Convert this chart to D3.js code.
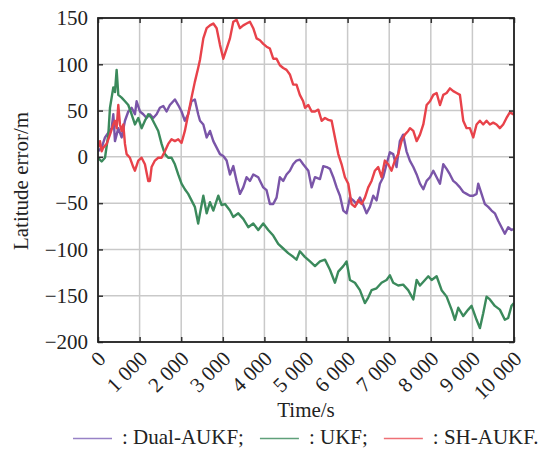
<!DOCTYPE html>
<html>
<head>
<meta charset="utf-8">
<script src="https://d3js.org/d3.v7.min.js"></script>
<style>
  html, body { margin: 0; padding: 0; background: #fff; }
  svg { display: block; }
  svg text { font-family: "Liberation Serif", "DejaVu Serif", serif; }
</style>
</head>
<body>
<svg id="chart" width="540" height="449"></svg>
<script>
// ---------- data (time in s, latitude error in m) ----------
const xTicks = [0, 1000, 2000, 3000, 4000, 5000, 6000, 7000, 8000, 9000, 10000];
const yTicks = [-200, -150, -100, -50, 0, 50, 100, 150];
const seriesNames = ["Dual-AUKF", "UKF", "SH-AUKF"];

const dualAUKF = [[0,6],[88,10],[168,21],[248,26],[328,31],[368,46],[408,17],[488,31],[568,21],[648,39],[728,49],[808,53],[888,46],[928,60],[1008,49],[1088,46],[1168,42],[1248,46],[1328,42],[1408,46],[1488,53],[1568,55],[1648,49],[1728,56],[1848,62],[1928,56],[2008,49],[2088,39],[2168,46],[2248,60],[2328,62],[2408,46],[2452,39],[2532,35],[2612,21],[2692,28],[2772,17],[2852,10],[2932,3],[3012,1],[3092,-4],[3172,-19],[3252,-10],[3332,-26],[3412,-40],[3492,-33],[3572,-22],[3652,-26],[3732,-19],[3852,-22],[3972,-33],[4052,-36],[4132,-51],[4212,-51],[4292,-44],[4372,-22],[4452,-26],[4532,-19],[4612,-15],[4692,-8],[4772,-4],[4852,-3],[4932,-8],[5056,-15],[5136,-33],[5216,-22],[5336,-24],[5416,-10],[5496,-11],[5576,-13],[5656,-22],[5736,-33],[5816,-42],[5896,-58],[5976,-61],[6056,-44],[6136,-47],[6216,-51],[6296,-44],[6376,-52],[6456,-61],[6536,-54],[6616,-42],[6696,-47],[6776,-29],[6856,-22],[6936,-8],[7016,5],[7096,3],[7176,-11],[7256,17],[7336,24],[7416,6],[7496,-4],[7580,-11],[7660,-19],[7740,-29],[7820,-35],[7900,-26],[7980,-22],[8060,-15],[8140,-22],[8220,-29],[8300,-8],[8380,-13],[8460,-19],[8540,-26],[8620,-29],[8700,-33],[8780,-38],[8860,-40],[8940,-42],[9020,-42],[9100,-40],[9140,-29],[9220,-40],[9300,-51],[9380,-54],[9460,-58],[9540,-61],[9620,-69],[9700,-76],[9780,-83],[9860,-76],[9940,-79],[10000,-78]];

const ukf = [[0,-1],[88,-5],[168,-1],[248,24],[288,53],[368,75],[408,70],[448,94],[488,67],[568,64],[648,60],[728,56],[808,46],[888,35],[968,42],[1048,31],[1128,39],[1208,46],[1288,42],[1368,35],[1448,28],[1528,14],[1608,3],[1688,-1],[1768,-1],[1848,-8],[1928,-19],[2008,-29],[2088,-35],[2168,-40],[2248,-47],[2328,-54],[2408,-72],[2452,-61],[2532,-42],[2612,-61],[2692,-49],[2772,-58],[2892,-42],[2972,-52],[3052,-51],[3172,-58],[3252,-65],[3372,-61],[3492,-67],[3612,-76],[3732,-72],[3852,-79],[3972,-72],[4092,-79],[4212,-85],[4332,-94],[4452,-99],[4572,-104],[4692,-108],[4772,-111],[4852,-102],[4972,-108],[5096,-113],[5216,-118],[5336,-113],[5456,-111],[5576,-122],[5696,-136],[5776,-124],[5896,-118],[5976,-113],[6056,-133],[6176,-136],[6296,-144],[6416,-158],[6496,-152],[6576,-144],[6696,-142],[6816,-136],[6936,-133],[7016,-128],[7096,-136],[7216,-139],[7336,-138],[7456,-144],[7580,-154],[7660,-133],[7740,-139],[7860,-133],[7940,-129],[8020,-133],[8140,-129],[8260,-144],[8380,-151],[8500,-165],[8580,-176],[8660,-163],[8780,-172],[8900,-165],[8980,-161],[9100,-176],[9180,-185],[9260,-169],[9340,-151],[9420,-154],[9540,-161],[9660,-165],[9780,-176],[9860,-174],[9940,-161],[10000,-158]];

const shAUKF = [[0,10],[48,17],[88,6],[128,10],[208,14],[288,24],[368,35],[408,39],[448,31],[488,56],[528,35],[568,28],[608,35],[648,14],[688,3],[768,-1],[848,-11],[888,-15],[968,-4],[1048,-1],[1128,-8],[1208,-26],[1248,-26],[1288,-11],[1368,-4],[1448,-1],[1528,-1],[1608,6],[1688,14],[1768,19],[1848,17],[1928,19],[2008,15],[2088,28],[2168,46],[2248,64],[2328,81],[2408,96],[2452,105],[2532,128],[2612,139],[2692,142],[2772,144],[2852,139],[2932,121],[3012,106],[3092,117],[3172,128],[3252,146],[3332,148],[3412,139],[3492,142],[3572,144],[3652,146],[3732,139],[3812,128],[3892,126],[3972,122],[4052,119],[4132,117],[4212,106],[4292,106],[4372,99],[4452,96],[4532,94],[4612,89],[4692,78],[4772,78],[4852,67],[4932,60],[4976,53],[5056,56],[5136,49],[5216,49],[5296,51],[5376,39],[5456,42],[5536,40],[5616,39],[5696,21],[5776,3],[5856,-8],[5936,-22],[6016,-29],[6096,-51],[6176,-54],[6256,-47],[6336,-51],[6416,-44],[6496,-33],[6576,-26],[6656,-15],[6736,-11],[6816,-22],[6896,-4],[6976,-8],[7056,-15],[7136,-4],[7216,3],[7296,17],[7376,24],[7456,28],[7500,31],[7580,28],[7660,17],[7740,24],[7820,35],[7900,56],[7980,60],[8060,67],[8140,69],[8220,56],[8300,67],[8380,69],[8460,74],[8540,71],[8620,69],[8700,67],[8780,39],[8860,31],[8940,31],[9020,21],[9100,35],[9180,39],[9260,35],[9340,39],[9420,35],[9500,37],[9580,35],[9660,31],[9740,35],[9820,42],[9900,48],[9980,46],[10000,48]];

const seriesData = [dualAUKF, ukf, shAUKF];
const seriesColors = ["#7a55a8", "#3b8a5c", "#e8424a"];
const legendColors = ["#9882c6", "#5fa07a", "#ee7076"];

// ---------- layout ----------
const svg = d3.select("#chart");
const pL = 98, pR = 514, pT = 18, pB = 342;
const FS = 21;

const x = d3.scaleLinear().domain([0, 10000]).range([pL, pR]);
const y = d3.scaleLinear().domain([-200, 150]).range([pB, pT]);

// grid
const grid = svg.append("g");
grid.selectAll("line.vg").data(xTicks).join("line")
  .attr("x1", d => x(d)).attr("x2", d => x(d))
  .attr("y1", pT).attr("y2", pB)
  .attr("stroke", "#c9c9c9").attr("stroke-width", 1.5);
grid.selectAll("line.hg").data(yTicks).join("line")
  .attr("x1", pL).attr("x2", pR)
  .attr("y1", d => y(d)).attr("y2", d => y(d))
  .attr("stroke", "#c9c9c9").attr("stroke-width", 1.5);

// clip
svg.append("clipPath").attr("id", "clip").append("rect")
  .attr("x", pL).attr("y", pT).attr("width", pR - pL).attr("height", pB - pT);

// lines (purple, green, red on top)
const line = d3.line().x(d => x(d[0])).y(d => y(d[1]));
const lg = svg.append("g").attr("clip-path", "url(#clip)");
seriesData.forEach((s, i) => {
  lg.append("path").datum(s)
    .attr("d", line)
    .attr("fill", "none")
    .attr("stroke", seriesColors[i])
    .attr("stroke-width", 2.4)
    .attr("stroke-linejoin", "round");
});

// axes with inward ticks
const fmtX = d => d3.format(",")(d).replace(/,/g, " ");
const axB = d3.axisBottom(x).tickValues(xTicks).tickSize(-5).tickFormat("");
const axT = d3.axisTop(x).tickValues(xTicks).tickSize(-5).tickFormat("");
const axL = d3.axisLeft(y).tickValues(yTicks).tickSize(-5).tickFormat("");
const axR = d3.axisRight(y).tickValues(yTicks).tickSize(-5).tickFormat("");
function styleAxis(g) {
  g.selectAll(".domain").remove();
  g.selectAll(".tick line").attr("stroke", "#333").attr("stroke-width", 1.5);
}
svg.append("g").attr("transform", `translate(0,${pB})`).call(axB).call(styleAxis);
svg.append("g").attr("transform", `translate(0,${pT})`).call(axT).call(styleAxis);
svg.append("g").attr("transform", `translate(${pL},0)`).call(axL).call(styleAxis);
svg.append("g").attr("transform", `translate(${pR},0)`).call(axR).call(styleAxis);

// frame
svg.append("rect").attr("x", pL).attr("y", pT)
  .attr("width", pR - pL).attr("height", pB - pT)
  .attr("fill", "none").attr("stroke", "#222").attr("stroke-width", 1.8);

// y tick labels
svg.append("g").selectAll("text").data(yTicks).join("text")
  .attr("x", pL - 10).attr("y", d => y(d)).attr("dy", "0.35em")
  .attr("text-anchor", "end").attr("font-size", FS).attr("fill", "#222")
  .text(d => d < 0 ? "\u2212" + Math.abs(d) : String(d));

// x tick labels (rotated)
svg.append("g").selectAll("text").data(xTicks).join("text")
  .attr("transform", d => `translate(${x(d) + 9},${pB + 18}) rotate(-45)`)
  .attr("text-anchor", "end").attr("font-size", FS).attr("fill", "#222")
  .text(fmtX);

// axis titles
svg.append("text").attr("x", (pL + pR) / 2).attr("y", 417)
  .attr("text-anchor", "middle").attr("font-size", FS).attr("fill", "#222")
  .text("Time/s");
svg.append("text").attr("transform", `translate(28,${(pT + pB) / 2 + 1}) rotate(-90)`)
  .attr("text-anchor", "middle").attr("font-size", FS).attr("fill", "#222")
  .text("Latitude error/m");

// legend
const leg = svg.append("g");
let lx = 73;
const ly = 438.5;
seriesNames.forEach((name, i) => {
  leg.append("line").attr("x1", lx).attr("x2", lx + 39).attr("y1", ly).attr("y2", ly)
    .attr("stroke", legendColors[i]).attr("stroke-width", 1.5);
  const t = leg.append("text").attr("x", lx + 49).attr("y", 443.5)
    .attr("font-size", FS).attr("fill", "#222")
    .text(": " + name + (i < seriesNames.length - 1 ? ";" : "."));
  lx = lx + 49 + t.node().getComputedTextLength() + 16;
});
</script>
</body>
</html>
